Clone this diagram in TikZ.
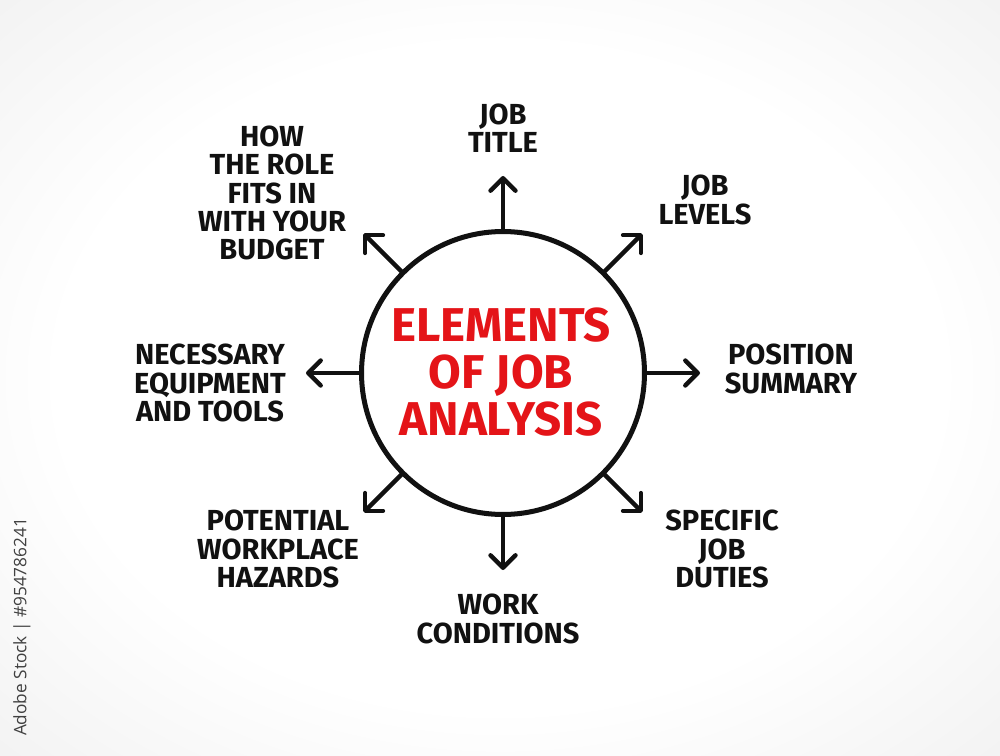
\documentclass[tikz,border=0pt]{standalone}
\usepackage{fontspec}
\setmainfont{Fira Sans}
\newfontfamily\stockfont{Open Sans}
\usetikzlibrary{arrows.meta,calc}
\definecolor{R}{RGB}{228, 20, 24}
\definecolor{K}{RGB}{17, 17, 17}
\pgfdeclareradialshading{paper}{\pgfpoint{0bp}{0bp}}{color(0bp)=(white); color(22bp)=(white); color(50bp)=(black!10); color(72bp)=(black!16)}
\tikzset{
  item/.style={text=K, align=center, font=\bfseries\fontsize{16.5}{16}\selectfont},
  spoke/.style={K, line width=2.5pt, line cap=round, -{Straight Barb[length=2.5mm,width=5mm,round]}},
}

\begin{document}
\begin{tikzpicture}[x=0.02cm,y=0.02cm]
  %# FONDO
  \fill[black!12] (0,0) rectangle (1000,755);
  \shade[shading=paper] (0,0) rectangle (1000,755);
  \node[rotate=90, text=black!75, font=\stockfont\fontsize{9.8}{11}\selectfont] (stock) at (22,128) {Adobe Stock | \#954786241};

  %# CIRCULO CENTRAL
  \node[circle, draw=K, line width=2.85pt, fill=white, minimum size=5.66cm, inner sep=0pt] (hub) at (503,382) {};
  \node[text=R, align=center, font=\bfseries\fontsize{27}{26.7}\selectfont] (title) at (501,383) {ELEMENTS\\OF JOB\\ANALYSIS};

  %# FLECHAS
  \foreach \ang/\nm in {90/n,45/ne,0/e,-45/se,-90/s,-135/sw,180/w,135/nw}{
    \coordinate (tip\nm) at ($(hub.center)+(\ang:197)$);
    \draw[spoke] (hub.\ang) -- (tip\nm);
  }

  %# ELEMENTOS
  \node[item] (jobtitle) at (503,627) {JOB\\TITLE};
  \node[item] (levels) at (705,555) {JOB\\LEVELS};
  \node[item] (summary) at (791,386) {POSITION\\SUMMARY};
  \node[item] (duties) at (722,206) {SPECIFIC\\JOB\\DUTIES};
  \node[item] (conditions) at (498,136) {WORK\\CONDITIONS};
  \node[item] (hazards) at (278,206) {POTENTIAL\\WORKPLACE\\HAZARDS};
  \node[item] (equipment) at (210,372) {NECESSARY\\EQUIPMENT\\AND TOOLS};
  \node[item] (budget) at (272,562) {HOW\\THE ROLE\\FITS IN\\WITH YOUR\\BUDGET};
\end{tikzpicture}
\end{document}
